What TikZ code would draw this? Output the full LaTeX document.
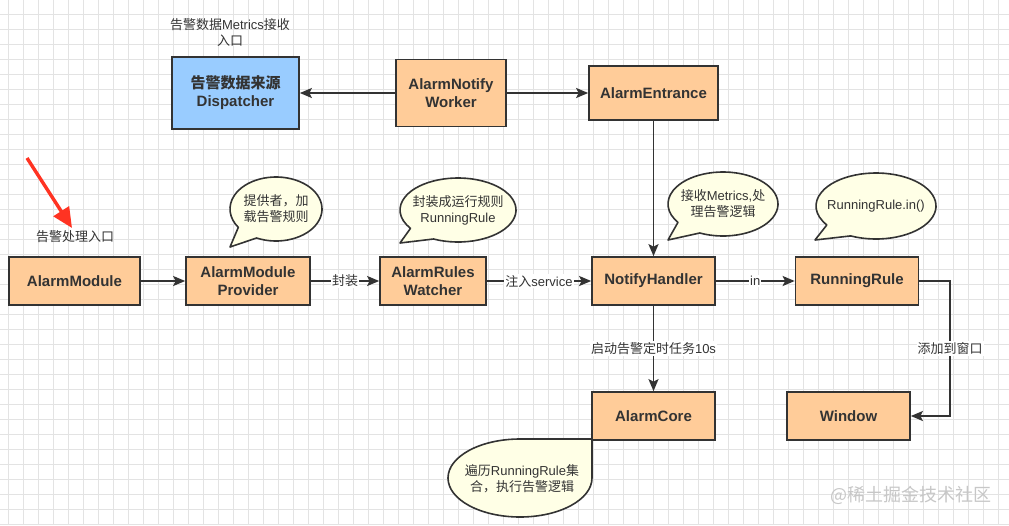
\documentclass[tikz,border=0pt]{standalone}
\usepackage{fontspec}
\setmainfont{Liberation Sans}
\newfontfamily\cjk{Noto Sans CJK SC}
\usetikzlibrary{arrows.meta,calc}
\definecolor{boxfill}{HTML}{FFCC99}
\definecolor{bluefill}{HTML}{99CCFF}
\definecolor{ink}{HTML}{333333}
\definecolor{notefill}{HTML}{FFFFE6}
\definecolor{gridc}{HTML}{E3E3E3}
\definecolor{arrowred}{HTML}{FF3322}
\newcommand\zh[1]{{\cjk #1}}
\begin{document}
\begin{tikzpicture}[x=1pt,y=1pt,
  box/.style={draw=ink, line width=1.7pt, fill=boxfill, text=ink, align=center, inner sep=0pt,
    font=\bfseries\fontsize{15}{18}\selectfont},
  conn/.style={draw=ink, line width=1.7pt, -{Stealth[length=12pt,width=10pt,inset=2.5pt]}},
  elabel/.style={fill=white, inner sep=1pt, text=ink, font=\fontsize{13}{15}\selectfont},
  note/.style={draw=ink, line width=1.6pt, fill=notefill, line join=round},
  notetext/.style={text=ink, align=center, inner sep=0pt, font=\fontsize{13}{16}\selectfont},
  plain/.style={text=ink, align=center, inner sep=0pt, font=\fontsize{13}{16}\selectfont}]
\useasboundingbox (0,0) rectangle (1009,-525);
\fill[white] (0,0) rectangle (1009,-525);
% grid
\foreach \x in {8.3,23.3,...,1009} \draw[gridc, line width=0.7pt] (\x,0) -- (\x,-525);
\foreach \y in {14,29,...,525} \draw[gridc, line width=0.7pt] (0,-\y) -- (1009,-\y);

% callouts
\draw[note] (230,-247) -- ($(276,-209)+(245:46 and 32)$) arc[start angle=245, end angle=575, x radius=46, y radius=32] -- cycle;
\node[notetext] (n1) at (276,-209) {\zh{提供者，加}\\\zh{载告警规则}};
\draw[note] (400,-243) -- ($(458,-210)+(245:58 and 32)$) arc[start angle=245, end angle=575, x radius=58, y radius=32] -- cycle;
\node[notetext] (n2) at (458,-210) {\zh{封装成运行规则}\\RunningRule};
\draw[note] (668,-240) -- ($(723,-204)+(245:55 and 32)$) arc[start angle=245, end angle=575, x radius=55, y radius=32] -- cycle;
\node[notetext] (n3) at (723,-204) {\zh{接收}Metrics,\zh{处}\\\zh{理告警逻辑}};
\draw[note] (815,-240) -- ($(876,-206)+(245:60 and 33)$) arc[start angle=245, end angle=575, x radius=60, y radius=33] -- cycle;
\node[notetext] (n4) at (876,-206) {RunningRule.in()};
\draw[note] (592,-439) -- (520,-439) arc[start angle=90, end angle=360, x radius=72, y radius=39] -- cycle;
\node[notetext] (n5) at (522,-479) {\zh{遍历}RunningRule\zh{集}\\\zh{合，执行告警逻辑}};

% boxes
\node[box, fill=bluefill, minimum width=127pt, minimum height=72pt] (disp) at (235.5,-93) {\zh{告警数据来源}\\Dispatcher};
\node[box, minimum width=110pt, minimum height=67pt] (worker) at (451,-93) {AlarmNotify\\Worker};
\node[box, minimum width=129pt, minimum height=54pt] (entr) at (653.5,-93) {AlarmEntrance};
\node[box, minimum width=131pt, minimum height=48pt] (mod) at (74.5,-281) {AlarmModule};
\node[box, minimum width=124pt, minimum height=48pt] (prov) at (248,-281) {AlarmModule\\Provider};
\node[box, minimum width=106pt, minimum height=48pt] (watch) at (433,-281) {AlarmRules\\Watcher};
\node[box, minimum width=123pt, minimum height=48pt] (nh) at (653.5,-281) {NotifyHandler};
\node[box, minimum width=123pt, minimum height=48pt] (rr) at (857,-281) {RunningRule};
\node[box, minimum width=123pt, minimum height=48pt] (core) at (653.5,-416) {AlarmCore};
\node[box, minimum width=123pt, minimum height=48pt] (win) at (848.5,-416) {Window};

% connectors
\draw[conn] (worker) -- (disp);
\draw[conn] (worker) -- (entr);
\draw[conn] (entr) -- (nh);
\draw[conn] (mod) -- (prov);
\draw[conn] (prov) -- node[elabel]{\zh{封装}} (watch);
\draw[conn] (watch) -- node[elabel]{\zh{注入}service} (nh);
\draw[conn] (nh) -- node[elabel]{in} (rr);
\draw[conn] (nh) -- node[elabel]{\zh{启动告警定时任务}10s} (core);
\coordinate (bend) at (950,-281);
\draw[conn] (rr.east) -- (bend) |- node[elabel,pos=0.25]{\zh{添加到窗口}} (win.east);

% free texts
\node[plain] (lab1) at (75,-237) {\zh{告警处理入口}};
\node[plain] (lab2) at (230,-32) {\zh{告警数据}Metrics\zh{接收}\\\zh{入口}};

% red pointer
\coordinate (ra) at (27,-158);
\coordinate (rb) at (72,-228);
\draw[arrowred, line width=3.4pt, -{Triangle[length=20pt,width=18pt]}] (ra) -- (rb);

% watermark
\node[text=black!22, inner sep=0pt, font=\fontsize{18}{20}\selectfont] (wm) at (911,-495) {\zh{@稀土掘金技术社区}};
\end{tikzpicture}
\end{document}
